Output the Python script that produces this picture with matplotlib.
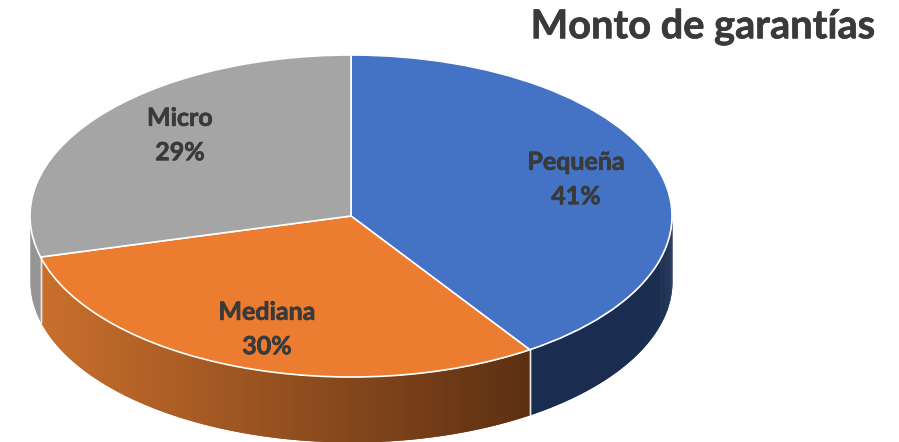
# 3D-looking pie: flat ax.pie squashed by the axes limits, side wall drawn as strips
import numpy as np
import matplotlib
matplotlib.use('Agg')
import matplotlib.pyplot as plt
import matplotlib.patheffects as pe
from matplotlib.colors import LinearSegmentedColormap

title = 'Monto de garantías'
categories = ['Pequeña', 'Mediana', 'Micro']
values = [40.6, 30.3, 29.1]  # read from the slice edges, labels round them
top_colors = ['#4472c4', '#eb7c30', '#a5a5a5']
wall_colors = [('#1a2d50', '#1a2d50'), ('#c96f2c', '#5c2f12'), ('#8c8c8c', '#7f7f7f')]

W, H = 899, 442
cx, cy, rx, ry = 351, 216, 321, 161  # pie ellipse in pixels
depth = 65 / ry


def px(x, y):
    return (x - cx) / rx, (cy - y) / ry


plt.rcParams['font.family'] = ['Lato', 'DejaVu Sans']
fig = plt.figure(figsize=(W / 100, H / 100), dpi=100)
ax = fig.add_axes([0, 0, 1, 1])

ax.pie(values, colors=top_colors, startangle=90, counterclock=False,
       wedgeprops=dict(edgecolor='white', linewidth=1.2))
ax.set_aspect('auto')
ax.set_xlim(px(0, 0)[0], px(W, 0)[0])
ax.set_ylim(px(0, H)[1], px(0, 0)[1])

# side wall, only the part facing the viewer
edges = 90 - 360 * np.cumsum([0] + values) / sum(values)
x_left, x_right = np.cos(np.radians(edges[2])), np.cos(np.radians(edges[1]))
for i in range(len(values)):
    start, end = edges[i], edges[i + 1]
    a, b = max(end, -180), min(start, 0)
    if a >= b:
        continue
    cmap = LinearSegmentedColormap.from_list('wall', wall_colors[i])
    th = np.radians(np.linspace(a, b, 160))
    xs, ys = np.cos(th), np.sin(th)
    # strips overlap the next one so no seams show between them
    for j in range(len(th) - 1):
        t = (xs[j] - x_left) / (x_right - x_left)
        c = cmap(np.clip(t, 0, 1))
        k = min(j + 3, len(th))
        ax.fill_between(xs[j:k], ys[j:k], ys[j:k] - depth,
                        color=c, linewidth=0, zorder=0.5)
    # white seam on the wall between slices
    for e in (start, end):
        if -180 < e < 0:
            ex, ey = np.cos(np.radians(e)), np.sin(np.radians(e))
            ax.plot([ex, ex], [ey, ey - depth], color='#e8e8e8', linewidth=1, zorder=0.6)

# thin stroke because Lato Bold is a little lighter than the original face
heavy = [pe.withStroke(linewidth=0.5, foreground='#3a3a3a')]

label_pos = [(576, 179.5), (267, 329.5), (180, 135.5)]
for cat, val, pos in zip(categories, values, label_pos):
    x, y = px(*pos)
    ax.text(x, y, f'{cat}\n{round(val)}%', ha='center', va='center', fontsize=18,
            fontweight='bold', color='#3a3a3a', linespacing=1.6, path_effects=heavy)

tx, ty = px(703, 27)
ax.text(tx, ty, title, ha='center', va='center', fontsize=28.6, fontweight='bold',
        color='#3a3a3a', path_effects=heavy)

fig.savefig('out.png', dpi=100)
